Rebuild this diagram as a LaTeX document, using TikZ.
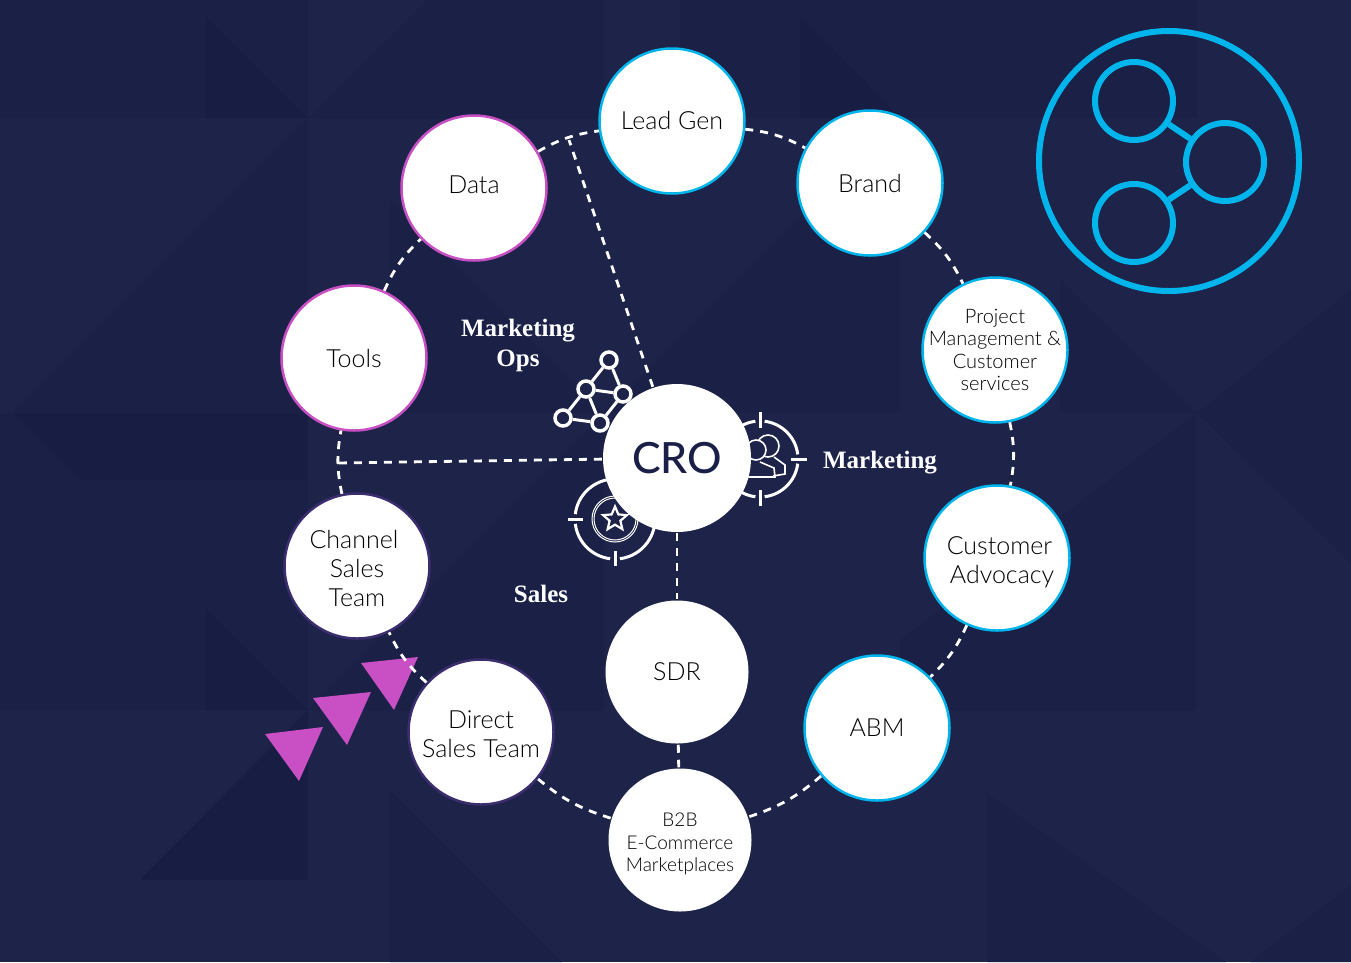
\documentclass[tikz,border=0pt]{standalone}
\usepackage{fontspec}
\setmainfont{Lato Light}[BoldFont=Lato Bold]
\newfontfamily\headfont{Liberation Serif}
\newfontfamily\crofont{Lato Medium}
\usetikzlibrary{shapes.geometric}
\definecolor{navy}{HTML}{1D2349}
\definecolor{navydark}{HTML}{1A2046}
\definecolor{navydeep}{HTML}{181D43}
\definecolor{crotext}{HTML}{1A1F47}
\definecolor{skyline}{HTML}{00B5EC}
\definecolor{pinkline}{HTML}{C94FC4}
\definecolor{plumline}{HTML}{3C2D6E}
\newcommand{\pushdown}[1]{\rule{0pt}{#1}}
\tikzset{
  ringnode/.style={circle,fill=white,inner sep=-6pt,minimum size=145pt,line width=2.5pt,align=center,text=black,
    font={\fontsize{25}{29}\selectfont}},
  skynode/.style={ringnode,draw=skyline},
  pinknode/.style={ringnode,draw=pinkline},
  plumnode/.style={ringnode,draw=plumline},
  smalltext/.style={inner sep=-20pt,font={\fontsize{20}{22.5}\selectfont}},
  ringlink/.style={white,line width=2.8pt,dash pattern=on 8pt off 7pt},
  headlabel/.style={white,align=center,font={\headfont\bfseries\fontsize{25}{30}\selectfont}},
  netdot/.style={circle,draw=white,fill=navy,line width=3.5pt,inner sep=0,minimum size=16pt},
  logoring/.style={circle,draw=skyline,line width=6pt,inner sep=0,minimum size=78pt},
  pointer/.style={fill=pinkline}
}
\begin{document}
\begin{tikzpicture}[x=1pt,y=-1pt]
\useasboundingbox (0,0) rectangle (1351,962);
%tiles
\fill[navy] (0,0) rectangle (1351,962);
\fill[navydark] (0,0) rectangle (308,118);
\fill[navydeep] (205,15) -- (308,118) -- (205,118) -- cycle;
\fill[navydark] (308,118) -- (428,0) -- (604,0) -- (604,118) -- cycle;
\fill[navydark] (680,0) rectangle (1197,118);
\fill[navydeep] (800,15) -- (900,118) -- (800,118) -- cycle;
\fill[navydark] (308,118) -- (308,413) -- (12,413) -- cycle;
\fill[navydark] (0,413) rectangle (308,710);
\fill[navydeep] (12,413) -- (308,413) -- (308,480) -- (80,480) -- cycle;
\fill[navydeep] (205,608) -- (308,710) -- (205,710) -- cycle;
\fill[navydeep] (308,710) -- (308,880) -- (140,880) -- cycle;
\fill[navydark] (390,200) -- (604,413) -- (390,413) -- cycle;
\fill[navydark] (308,710) -- (604,413) -- (604,710) -- cycle;
\fill[navydark] (390,790) -- (562,962) -- (390,962) -- cycle;
\fill[navydark] (604,413) -- (900,118) -- (900,413) -- cycle;
\fill[navydark] (1060,280) -- (1196,413) -- (1060,413) -- cycle;
\fill[navydark] (1197,413) -- (1351,413) -- (1351,563) -- cycle;
\fill[navydark] (1197,413) -- (1351,290) -- (1351,413) -- cycle;
\fill[navydark] (1196,413) -- (900,640) -- (900,710) -- (1196,710) -- cycle;
\fill[navydark] (987,793) -- (1226,962) -- (987,962) -- cycle;
\fill[navydark] (1250,962) -- (1351,885) -- (1351,962) -- cycle;
%pointers
\fill[pointer] (361,663) -- (418,657) -- (394,710) -- cycle;
\fill[pointer] (313,698) -- (371,692) -- (347,745) -- cycle;
\fill[pointer] (265,734) -- (323,727) -- (299,781) -- cycle;
%outer ring
\node[skynode] (leadgen) at (672,121) {Lead Gen};
\node[skynode] (brand) at (870,183) {Brand};
\node[skynode,smalltext] (project) at (995,350) {Project\\Management \&\\Customer\\services};
\node[skynode] (advocacy) at (997,558) {\pushdown{27pt}\hspace*{5pt}Customer\\\hspace*{10pt}Advocacy};
\node[skynode] (abm) at (877,728) {ABM};
\node[ringnode,smalltext,minimum size=143pt,font={\fontsize{19}{22.5}\selectfont}] (btob) at (680,840) {\pushdown{22pt}B2B\\E-Commerce\\Marketplaces};
\node[plumnode] (direct) at (481,732) {\pushdown{22pt}Direct\\Sales Team};
\node[plumnode] (channel) at (357,566) {\pushdown{23pt}Channel\hspace*{6pt}\\Sales\hspace*{6pt}\\Team};
\node[pinknode] (tools) at (354,358) {Tools};
\node[pinknode] (data) at (474,188) {\rule[-6pt]{0pt}{6pt}Data};
\node[ringnode,minimum size=143pt] (sdr) at (677,672) {SDR};
%ring links
\draw[ringlink] (leadgen) to[bend left=11] (brand);
\draw[ringlink] (brand) to[bend left=11] (project);
\draw[ringlink] (project) to[bend left=11] (advocacy);
\draw[ringlink] (advocacy) to[bend left=11] (abm);
\draw[ringlink] (abm) to[bend left=11] (btob);
\draw[ringlink] (btob) to[bend left=11] (direct);
\draw[ringlink] (direct) to[bend left=11] (channel);
\draw[ringlink] (channel) to[bend left=11] (tools);
\draw[ringlink] (tools) to[bend left=11] (data);
\draw[ringlink] (data) to[bend left=11] (leadgen);
%network icon
\node[netdot] (neta) at (609,360) {};
\node[netdot] (netb) at (586,389) {};
\node[netdot] (netc) at (623,394) {};
\node[netdot] (netd) at (563,418) {};
\node[netdot] (nete) at (600,423) {};
\foreach \from/\to in {neta/netb,neta/netc,netb/netc,netb/netd,netb/nete,netd/nete,netc/nete}
{
  \draw[white,line width=3pt] (\from) -- (\to);
}
%marketing target
\coordinate (mtarget) at (760,459);
\foreach \a in {0,90,180,270}
{
  \draw[white,line width=3pt] (mtarget) ++(\a+7:38pt) arc[start angle=\a+7,end angle=\a+83,radius=38pt];
  \draw[white,line width=3pt] (mtarget) ++(\a:31pt) -- ++(\a:16pt);
}
\draw[white,line width=1.6pt] (768,446) circle[radius=11pt];
\draw[white,line width=1.6pt] (774,457) -- (785,465) -- (785,474) -- (773,476);
\draw[white,line width=1.6pt,fill=navy] (756,450) circle[radius=10pt];
\draw[white,line width=1.6pt] (760,462) -- (774,468) -- (775,477) -- (745,477);
%sales target
\coordinate (starget) at (615,519);
\foreach \a in {0,90,180,270}
{
  \draw[white,line width=3pt] (starget) ++(\a+7:40pt) arc[start angle=\a+7,end angle=\a+83,radius=40pt];
  \draw[white,line width=3pt] (starget) ++(\a:32pt) -- ++(\a:15pt);
}
\draw[white,line width=1pt] (starget) circle[radius=23pt];
\draw[white,line width=1pt] (starget) circle[radius=21pt];
\node[star,star points=5,star point ratio=2.2,draw=white,line width=2.2pt,inner sep=0,minimum size=25pt] (starmark) at (starget) {};
%centre
\node[ringnode,minimum size=148pt,text=crotext,font={\crofont\fontsize{43}{50}\selectfont}] (cro) at (677,458) {CRO};
\coordinate (opsjoin) at (569,140);
\coordinate (salesjoin) at (337,463);
\draw[ringlink] (cro) -- (opsjoin);
\draw[ringlink] (cro) -- (salesjoin);
\draw[ringlink] (cro) -- (sdr);
\draw[ringlink] (sdr) -- (btob);
%team labels
\node[headlabel] (opslabel) at (518,345) {Marketing\\Ops};
\node[headlabel] (marketlabel) at (880,463) {Marketing};
\node[headlabel] (saleslabel) at (541,594) {Sales};
%share icon
\node[circle,draw=skyline,line width=6pt,inner sep=0,minimum size=260pt] (logo) at (1169,161) {};
\node[logoring] (logoa) at (1134,101) {};
\node[logoring] (logob) at (1225,162) {};
\node[logoring] (logoc) at (1134,223) {};
\draw[skyline,line width=6pt] (logoa) -- (logob);
\draw[skyline,line width=6pt] (logoc) -- (logob);
\end{tikzpicture}
\end{document}
